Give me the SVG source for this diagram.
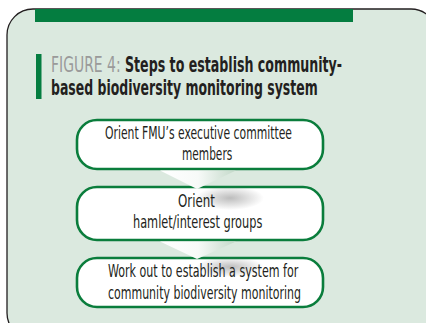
<svg xmlns="http://www.w3.org/2000/svg" width="426" height="323" viewBox="0 0 426 323">
<defs>
<style>
.panel{fill:#dbe9df;stroke:#231f20;stroke-width:1.3}
.box{fill:#ffffff;stroke:#0a7d3c;stroke-width:2.6}
.t{font-family:"DejaVu Sans Condensed","Liberation Sans",sans-serif;font-size:18px;fill:#231f20}
.title{font-family:"DejaVu Sans Condensed","Liberation Sans",sans-serif;font-size:21px;font-weight:bold;fill:#231f20}
.gray{fill:#9a9a9a;font-weight:normal}
</style>
<linearGradient id="face" x1="0" y1="0" x2="1" y2="0">
<stop offset="0" stop-color="#ffffff"/>
<stop offset="0.5" stop-color="#f7faf8"/>
<stop offset="1" stop-color="#c3d9c9"/>
</linearGradient>
<radialGradient id="shadow">
<stop offset="0" stop-color="#7a7a7a" stop-opacity="0.5"/>
<stop offset="1" stop-color="#7a7a7a" stop-opacity="0"/>
</radialGradient>
</defs>
<rect class="panel" x="7" y="9" width="430" height="330" rx="26"/>
<rect x="35" y="9" width="318" height="13" fill="#047d40"/>
<g id="title">
<rect x="36" y="54" width="5.5" height="45" fill="#047d40"/>
<text class="title gray" transform="translate(51,72) scale(0.67,1)" textLength="104" lengthAdjust="spacingAndGlyphs">FIGURE 4:</text>
<text class="title" transform="translate(125,72) scale(0.67,1)" textLength="324" lengthAdjust="spacingAndGlyphs">Steps to establish community-</text>
<text class="title" transform="translate(51,95) scale(0.67,1)" textLength="398" lengthAdjust="spacingAndGlyphs">based biodiversity monitoring system</text>
</g>
<g id="step1">
<rect class="box" x="77" y="120" width="246" height="49" rx="20"/>
<text class="t" transform="translate(105,139) scale(0.67,1)" textLength="279" lengthAdjust="spacingAndGlyphs">Orient FMU’s executive committee</text>
<text class="t" transform="translate(182,160) scale(0.67,1)" textLength="75" lengthAdjust="spacingAndGlyphs">members</text>
</g>
<g id="step2">
<rect class="box" x="77" y="187" width="246" height="53" rx="20"/>
<ellipse cx="230" cy="198" rx="34" ry="12" fill="url(#shadow)"/>
<text class="t" transform="translate(178,207) scale(0.67,1)" textLength="55" lengthAdjust="spacingAndGlyphs">Orient</text>
<text class="t" transform="translate(133,228) scale(0.67,1)" textLength="193" lengthAdjust="spacingAndGlyphs">hamlet/interest groups</text>
</g>
<g id="step3">
<rect class="box" x="77" y="258" width="246" height="49" rx="20"/>
<ellipse cx="230" cy="267" rx="34" ry="10" fill="url(#shadow)"/>
<text class="t" transform="translate(108,277) scale(0.67,1)" textLength="284" lengthAdjust="spacingAndGlyphs">Work out to establish a system for</text>
<text class="t" transform="translate(108,299) scale(0.67,1)" textLength="288" lengthAdjust="spacingAndGlyphs">community biodiversity monitoring</text>
</g>
<g id="connectors">
<polygon points="160,170.5 236,170.5 197,189" fill="url(#face)"/>
<polygon points="160,241.5 236,241.5 197,259" fill="url(#face)"/>
</g>
</svg>
